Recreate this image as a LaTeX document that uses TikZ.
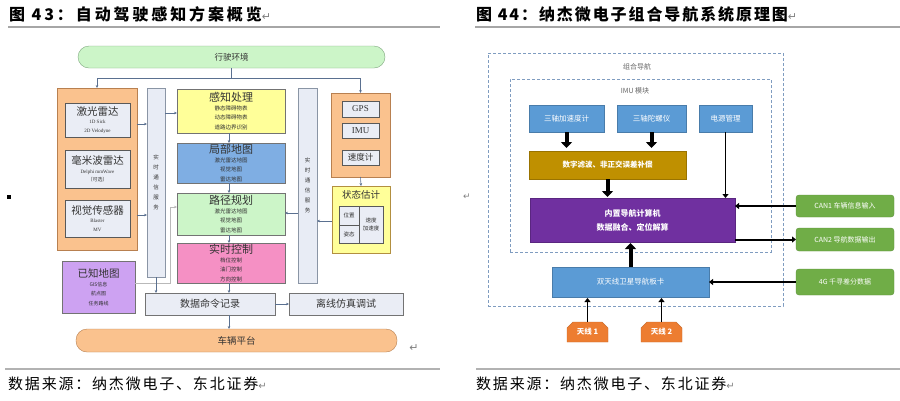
\documentclass[tikz,border=0pt]{standalone}
\usepackage{fontspec}
\setmainfont{Noto Sans CJK SC}
\newfontfamily\ser{Liberation Serif}
\newfontfamily\djv{DejaVu Sans}
\usetikzlibrary{arrows.meta,shapes.misc}
\newcommand\fz[2]{\fontsize{#1}{#2}\selectfont}
\definecolor{envg}{HTML}{CCF5C8}
\definecolor{envb}{HTML}{80A880}
\definecolor{orf}{HTML}{FAC28E}
\definecolor{orb}{HTML}{B88050}
\definecolor{inf}{HTML}{EAEDF5}
\definecolor{barf}{HTML}{E8ECF5}
\definecolor{barb}{HTML}{8A95A5}
\definecolor{yel}{HTML}{FFFF99}
\definecolor{blu}{HTML}{7FAEE3}
\definecolor{pnk}{HTML}{F590C4}
\definecolor{pur}{HTML}{CDA2F2}
\definecolor{conc}{HTML}{5A7090}
\definecolor{tx}{HTML}{333333}
\definecolor{rblue}{HTML}{5B9BD5}
\definecolor{rgold}{HTML}{BF9000}
\definecolor{rpur}{HTML}{7030A0}
\definecolor{rgrn}{HTML}{70AD47}
\definecolor{rorg}{HTML}{ED7D31}
\definecolor{dsh}{HTML}{7F9CC0}
\begin{document}
\begin{tikzpicture}[x=1pt,y=-1pt,
  bx/.style={draw, inner sep=0pt, outer sep=0pt, align=center, text=tx},
  sub/.style={font=\fz{5.5}{7.6}},
  con/.style={draw=conc, line width=0.6pt, -{Stealth[length=3pt,width=2.6pt]}},
  rb/.style={draw=rblue!80!black, fill=rblue, inner sep=0pt, outer sep=0pt, align=center, text=white, font=\fz{7.5}{9}},
  big/.style={line width=4pt, -{Triangle[width=11pt,length=6pt]}},
  med/.style={line width=2pt, -{Triangle[width=6pt,length=4pt]}},
  dbox/.style={draw=dsh, dash pattern=on 3pt off 2pt, line width=0.8pt, inner sep=0pt, outer sep=0pt},
  grn/.style={fill=rgrn, draw=rgrn!85!black, rounded corners=3pt, inner sep=0pt, outer sep=0pt, text=white, font=\fz{7}{8}, minimum width=98pt}
]
\useasboundingbox (0,0) rectangle (900,400);
\fill[white] (0,0) rectangle (900,400);

% ---------- titles ----------
\node[anchor=west, inner sep=0pt, font=\fz{16}{18}\bfseries\addfontfeatures{LetterSpace=18}] (t1) at (9,14) {图 43：自动驾驶感知方案概览{\mdseries\djv\fz{11}{12}\color{gray}↵}};
\node[anchor=west, inner sep=0pt, font=\fz{16}{18}\bfseries\addfontfeatures{LetterSpace=12}] (t2) at (476,14) {图 44：纳杰微电子组合导航系统原理图{\mdseries\djv\fz{11}{12}\color{gray}↵}};
\draw[gray!70, line width=1.2pt] (8,27) -- (440,27);
\draw[gray!70, line width=1.2pt] (475,27) -- (900,27);
\draw[gray!60, line width=1.2pt] (5,369) -- (440,369);
\draw[gray!60, line width=1.2pt] (476,369) -- (900,369);
\node[anchor=west, inner sep=0pt, font=\fz{15}{17}\addfontfeatures{LetterSpace=12}] (c1) at (8,384) {数据来源：纳杰微电子、东北证券{\djv\fz{10}{11}\color{gray}↵}};
\node[anchor=west, inner sep=0pt, font=\fz{15}{17}\addfontfeatures{LetterSpace=12}] (c2) at (476,384) {数据来源：纳杰微电子、东北证券{\djv\fz{10}{11}\color{gray}↵}};
\node[fill=black, minimum size=4pt, inner sep=0pt] (sq) at (9,197) {};
\node[inner sep=0pt, text=gray, font=\djv\fz{11}{12}] (rt1) at (414,348) {↵};
\node[inner sep=0pt, text=gray, font=\djv\fz{9}{10}] (rt2) at (467,197) {↵};

% ---------- left diagram ----------
\node[bx, fill=envg, draw=envb, rounded corners=11pt, minimum width=307pt, minimum height=22pt, font=\fz{8.5}{10}] (env) at (231.5,57) {行驶环境};
\node[bx, fill=orf, draw=orb, minimum width=80pt, minimum height=162pt] (lor) at (97,169) {};
\node[bx, fill=inf, draw=black!65, minimum width=65pt, minimum height=34pt, font=\fz{5}{7}] (las) at (97.5,120)
  {{\fz{10.5}{11}激光雷达}\\[1.5pt]{\ser 1D Sick}\\[1.5pt]{\ser 2D Velodyne}};
\node[bx, fill=inf, draw=black!65, minimum width=65pt, minimum height=38pt, font=\fz{5}{7}] (mmw) at (97.5,169)
  {{\fz{10.5}{11}毫米波雷达}\\[1.5pt]{\ser Delphi mmWave}\\[1.5pt]（可选）};
\node[bx, fill=inf, draw=black!65, minimum width=65pt, minimum height=37pt, font=\fz{5}{7}] (vis) at (97.5,218.5)
  {{\fz{10.5}{11}视觉传感器}\\[1.5pt]{\ser Blaster}\\[1.5pt]{\ser MV}};
\node[bx, fill=barf, draw=barb, minimum width=18pt, minimum height=189pt, font=\fz{5.5}{8}] (lbar) at (156,182.5) {实\\[2pt]时\\[2pt]通\\[2pt]信\\[2pt]服\\[2pt]务};
\node[bx, fill=barf, draw=barb, minimum width=19pt, minimum height=195pt, font=\fz{5.5}{8}] (rbar) at (307.5,185.5) {实\\[2pt]时\\[2pt]通\\[2pt]信\\[2pt]服\\[2pt]务};

\node[bx, sub, fill=yel, draw=black!55, minimum width=108pt, minimum height=44pt] (gz) at (231,111)
  {{\fz{11}{12}感知处理}\\[1pt]静态障碍物表\\[1.8pt]动态障碍物表\\[1.8pt]道路边界识别};
\node[bx, sub, fill=blu, draw=black!55, minimum width=108pt, minimum height=40pt] (jb) at (231,163)
  {{\fz{11}{12}局部地图}\\[1pt]激光雷达地图\\[1.8pt]视觉地图\\[1.8pt]雷达地图};
\node[bx, sub, fill=envg, draw=black!55, minimum width=108pt, minimum height=42pt] (lj) at (231,214)
  {{\fz{11}{12}路径规划}\\[1pt]激光雷达地图\\[1.8pt]视觉地图\\[1.8pt]雷达地图};
\node[bx, sub, fill=pnk, draw=black!55, minimum width=108pt, minimum height=40pt] (ss) at (231,263)
  {{\fz{11}{12}实时控制}\\[1pt]档位控制\\[1.8pt]油门控制\\[1.8pt]方向控制};

\node[bx, fill=orf, draw=orb, minimum width=59pt, minimum height=84pt] (ror) at (360.5,135) {};
\node[bx, fill=inf, draw=black!65, minimum width=37pt, minimum height=16pt, font=\ser\fz{9}{10}] (gps) at (360.5,109) {GPS};
\node[bx, fill=inf, draw=black!65, minimum width=37pt, minimum height=15pt, font=\ser\fz{9}{10}] (imu) at (360.5,130.5) {IMU};
\node[bx, fill=inf, draw=black!65, minimum width=37pt, minimum height=15pt, font=\fz{8.5}{10}] (spd) at (360.5,157.5) {速度计};

\node[bx, fill=yel, draw=yel!60!orange!70!black, line width=0.8pt, minimum width=58pt, minimum height=67pt] (zt) at (361,219.5) {};
\node[inner sep=0pt, text=tx, font=\fz{9.5}{10}] (ztt) at (361,195) {状态估计};
\node[bx, fill=inf, draw=black!65, minimum width=20pt, minimum height=19pt, font=\fz{5.5}{6}] (pos) at (349,215.5) {位置};
\node[bx, fill=inf, draw=black!65, minimum width=20pt, minimum height=18pt, font=\fz{5.5}{6}] (att) at (349,234) {姿态};
\node[bx, fill=inf, draw=black!65, minimum width=24pt, minimum height=37pt, font=\fz{5.5}{7}] (vel) at (371,224.5) {速度\\[1.5pt]加速度};

\node[bx, fill=pur, draw=black!55, minimum width=73pt, minimum height=52pt, font=\fz{5}{7.5}] (map) at (98.5,287)
  {{\fz{10.5}{12}已知地图}\\[1.5pt]GIS信息\\[1.8pt]航点图\\[1.8pt]任务路线};
\node[bx, fill=inf, draw=black!55, minimum width=130pt, minimum height=22pt, font=\fz{10}{11}] (rec) at (210,304) {数据命令记录};
\node[bx, fill=inf, draw=black!55, minimum width=114pt, minimum height=22pt, font=\fz{10}{11}] (sim) at (346,304) {离线仿真调试};
\node[bx, fill=orf, draw=orb, rounded corners=11pt, minimum width=321pt, minimum height=23pt, font=\fz{9.5}{10}] (car) at (236.5,340.5) {车辆平台};

% left connectors
\draw[draw=conc, line width=0.6pt] (env.south) -- (env.south |- 0,78);
\draw[con] (env.south |- 0,78) -| (lor.north);
\draw[con] (env.south |- 0,78) -| (ror.north);
\draw[con] (lor.east |- 0,124) -- (lbar.west |- 0,124);
\draw[con] (lor.east |- 0,215) -- (lbar.west |- 0,215);
\draw[con] (lbar.east |- 0,113) -- (gz.west |- 0,113);
\draw[con] (gz.south -| 229,0) -- (jb.north -| 229,0);
\draw[con] (jb.south -| 229,0) -- (lj.north -| 229,0);
\draw[con] (lj.south -| 229,0) -- (ss.north -| 229,0);
\draw[con] (rbar.west |- 0,213) -- (lj.east |- 0,213);
\draw[con] (ror.south) -- (zt.north);
\draw[con] (zt.west |- 0,221) -- (rbar.east |- 0,221);
\draw[con, draw=gray!55] (map.east |- 0,283) -- (170,283) -- (170,207) -- (lj.west |- 0,207);
\draw[con] (lbar.south) -- (rec.north -| lbar.south);
\draw[con] (ss.south -| 229,0) -- (rec.north -| 229,0);
\draw[con] (rec.east) -- (sim.west);
\draw[con] (rec.south -| 229,0) -- (car.north -| 229,0);

% ---------- right diagram ----------
\node[dbox, minimum width=295pt, minimum height=253pt] (outer) at (635.5,179.5) {};
\node[inner sep=0pt, text=black!60, font=\fz{7}{8}] (outl) at (637,67) {组合导航};
\node[dbox, minimum width=261pt, minimum height=173pt] (inner) at (640.5,165.5) {};
\node[inner sep=0pt, text=black!60, font=\fz{7}{8}] (innl) at (635,91) {IMU 模块};

\node[rb, minimum width=75pt, minimum height=27pt] (acc) at (566.5,118.5) {三轴加速度计};
\node[rb, minimum width=69pt, minimum height=27pt] (gyr) at (651.5,118.5) {三轴陀螺仪};
\node[rb, minimum width=53pt, minimum height=27pt] (pwr) at (725.5,118.5) {电源管理};
\node[rb, fill=rgold, draw=rgold!80!black, minimum width=157pt, minimum height=28pt, font=\bfseries\fz{7.5}{9}] (flt) at (607.5,165) {数字滤波、非正交误差补偿};
\node[rb, fill=rpur, draw=rpur!80!black, minimum width=205pt, minimum height=44pt, font=\bfseries\fz{8}{12}] (nav) at (632.5,220) {内置导航计算机\\[2pt]数据融合、定位解算};
\node[rb, minimum width=157pt, minimum height=30pt] (gnss) at (630.5,282) {双天线卫星导航板卡};
\node[chamfered rectangle, chamfered rectangle corners={north west,north east}, chamfered rectangle xsep=3pt, chamfered rectangle ysep=3pt,
  fill=rorg, draw=rorg!85!black, inner sep=0pt, outer sep=0pt, text=white, font=\bfseries\fz{7.5}{9}, minimum width=41pt, minimum height=20pt] (ant1) at (587.5,332) {天线 1};
\node[chamfered rectangle, chamfered rectangle corners={north west,north east}, chamfered rectangle xsep=3pt, chamfered rectangle ysep=3pt,
  fill=rorg, draw=rorg!85!black, inner sep=0pt, outer sep=0pt, text=white, font=\bfseries\fz{7.5}{9}, minimum width=41pt, minimum height=20pt] (ant2) at (661.5,332) {天线 2};
\node[grn, minimum height=22pt] (can1) at (845,206) {CAN1 车辆信息输入};
\node[grn, minimum height=23pt] (can2) at (845,239.5) {CAN2 导航数据输出};
\node[grn, minimum height=26pt] (g4) at (845,282) {4G 千寻差分数据};

% right connectors
\draw[big, shorten >=3pt] (acc.south) -- (acc.south |- flt.north);
\draw[big, shorten >=3pt] (gyr.south) -- (gyr.south |- flt.north);
\draw[big, shorten >=1pt] (flt.south) -- (flt.south |- nav.north);
\draw[big, shorten >=1pt] (gnss.north) -- (gnss.north |- nav.south);
\draw[med, line width=1.8pt] (pwr.south) -- (pwr.south |- nav.north);
\draw[med] (can1.west) -- (can1.west -| nav.east);
\draw[med] (nav.east |- can2.west) -- (can2.west);
\draw[med] (g4.west) -- (g4.west -| gnss.east);
\draw[med, line width=1.6pt, shorten >=1pt] (ant1.north) -- (ant1.north |- gnss.south);
\draw[med, line width=1.6pt, shorten >=1pt] (ant2.north) -- (ant2.north |- gnss.south);
\end{tikzpicture}
\end{document}
